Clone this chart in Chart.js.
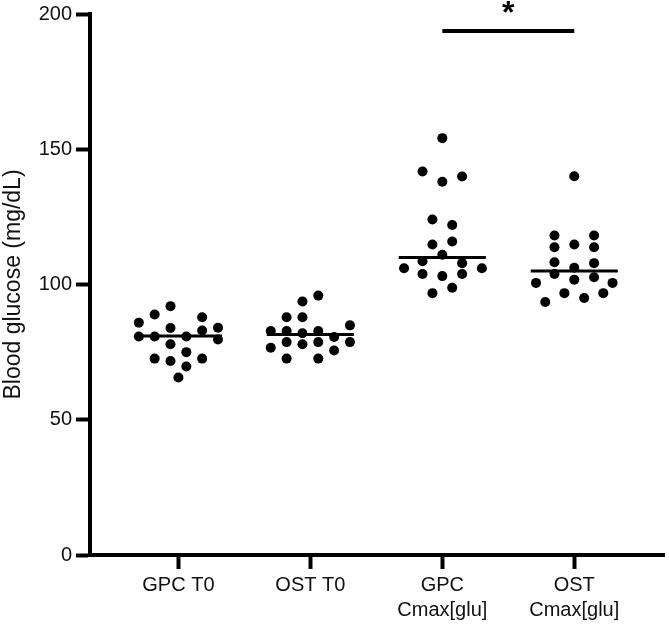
<!DOCTYPE html>
<html>
<head>
<meta charset="utf-8">
<script src="https://cdn.jsdelivr.net/npm/chart.js@4.4.1/dist/chart.umd.min.js"></script>
<style>
  html, body { margin: 0; padding: 0; background: #fff; }
  #wrap { width: 669px; height: 627px; }
</style>
</head>
<body>
<div id="wrap"><canvas id="glucoseChart"></canvas></div>
<script>
// groups along the x axis
const groupLabels = ['GPC T0', 'OST T0', ['GPC', 'Cmax[glu]'], ['OST', 'Cmax[glu]']];

// blood glucose (mg/dL) per subject
const gpcT0 = [92.0, 88.9, 85.9, 87.9, 83.9, 83.0, 84.0, 80.8, 80.8, 80.8, 79.7, 77.9, 75.0, 72.6, 71.7, 72.6, 69.7, 65.6];
const ostT0 = [95.9, 93.7, 87.9, 87.9, 84.9, 82.8, 82.8, 82.0, 82.8, 80.6, 78.7, 77.9, 78.7, 78.7, 76.6, 75.6, 72.6, 72.6];
const gpcCmax = [154.1, 141.8, 138.0, 139.9, 124.0, 122.0, 114.8, 115.9, 111.0, 108.6, 107.9, 106.0, 106.0, 103.9, 103.1, 103.9, 98.8, 96.8];
const ostCmax = [140.0, 118.1, 118.1, 114.8, 113.8, 113.8, 108.2, 107.9, 106.2, 103.9, 102.7, 101.8, 100.6, 100.6, 96.8, 96.8, 93.5, 95.0];

// horizontal scatter offset of each dot inside its column (category units)
const gpcT0Jitter = [-0.06, -0.18, -0.30, 0.18, -0.06, 0.18, 0.30, -0.30, -0.18, 0.06, 0.30, -0.06, 0.06, -0.18, -0.06, 0.18, 0.06, 0];
const ostT0Jitter = [0.06, -0.06, -0.18, -0.06, 0.30, -0.30, -0.18, -0.06, 0.06, 0.18, -0.18, -0.06, 0.06, 0.30, -0.30, 0.18, -0.18, 0.06];
const gpcCmaxJitter = [0, -0.15, 0, 0.15, -0.075, 0.075, -0.075, 0.075, 0, -0.15, 0.15, -0.29, 0.30, -0.15, 0, 0.15, 0.075, -0.075];
const ostCmaxJitter = [0, -0.15, 0.15, 0, -0.15, 0.15, -0.15, 0.15, 0, -0.15, 0.15, 0, -0.29, 0.29, -0.075, 0.22, -0.22, 0.075];

// median line per group
const medians = [81, 81.5, 110, 105];

// significance bracket between group 3 and 4
const sigFrom = 3;
const sigTo = 4;
const sigLevel = 193.7;
const sigText = '*';

const yTicks = [0, 50, 100, 150, 200];

const groups = [gpcT0, ostT0, gpcCmax, ostCmax];
const jitters = [gpcT0Jitter, ostT0Jitter, gpcCmaxJitter, ostCmaxJitter];

const datasets = [];

groups.forEach((vals, i) => {
    datasets.push({
        type: 'scatter',
        data: vals.map((v, j) => ({ x: i + 1 + jitters[i][j], y: v })),
        backgroundColor: '#000',
        borderWidth: 0,
        pointRadius: 5,
        pointHoverRadius: 5
    });
});

medians.forEach((m, i) => {
    datasets.push({
        type: 'line',
        data: [{ x: i + 1 - 0.33, y: m }, { x: i + 1 + 0.33, y: m }],
        borderColor: '#000',
        borderWidth: 3,
        pointRadius: 0
    });
});

datasets.push({
    type: 'line',
    data: [{ x: sigFrom, y: sigLevel }, { x: sigTo, y: sigLevel }],
    borderColor: '#000',
    borderWidth: 4,
    pointRadius: 0
});

// star above the significance bar
const starPlugin = {
    id: 'star',
    afterDatasetsDraw(chart) {
        const c = chart.ctx;
        const x = chart.scales.x.getPixelForValue((sigFrom + sigTo) / 2);
        const y = chart.scales.y.getPixelForValue(sigLevel);
        c.save();
        c.fillStyle = '#000';
        c.font = 'bold 32px "Liberation Sans", Arial, sans-serif';
        c.textAlign = 'center';
        c.textBaseline = 'alphabetic';
        c.fillText(sigText, x, y - 8);
        c.restore();
    }
};

const ctx = document.getElementById('glucoseChart');

new Chart(ctx, {
    type: 'scatter',
    data: { datasets: datasets },
    options: {
        responsive: true,
        maintainAspectRatio: false,
        animation: false,
        layout: { padding: { top: 13, right: 2, left: 0, bottom: 0 } },
        plugins: {
            legend: { display: false },
            tooltip: { enabled: false }
        },
        scales: {
            x: {
                type: 'linear',
                min: 0.33,
                max: 4.68,
                afterBuildTicks: (scale) => {
                    scale.ticks = groupLabels.map((l, i) => ({ value: i + 1 }));
                },
                afterFit: (scale) => { scale.height = 72; },
                grid: {
                    drawOnChartArea: false,
                    tickLength: 14,
                    tickWidth: 4,
                    tickColor: '#000'
                },
                border: { width: 4, color: '#000' },
                ticks: {
                    color: '#111',
                    padding: 4,
                    autoSkip: false,
                    maxRotation: 0,
                    font: { family: '"Liberation Sans", Arial, sans-serif', size: 20, lineHeight: 1.25 },
                    callback: (v) => groupLabels[Math.round(v) - 1]
                }
            },
            y: {
                min: 0,
                max: 200,
                afterBuildTicks: (scale) => {
                    scale.ticks = yTicks.map(v => ({ value: v }));
                },
                afterFit: (scale) => { scale.width = 90; },
                grid: {
                    drawOnChartArea: false,
                    tickLength: 14,
                    tickWidth: 4,
                    tickColor: '#000'
                },
                border: { width: 4, color: '#000' },
                title: {
                    display: true,
                    text: 'Blood glucose (mg/dL)',
                    color: '#111',
                    padding: { top: 0, bottom: 0 },
                    font: { family: '"Liberation Sans", Arial, sans-serif', size: 23 }
                },
                ticks: {
                    color: '#111',
                    padding: 4,
                    font: { family: '"Liberation Sans", Arial, sans-serif', size: 20, lineHeight: 1 }
                }
            }
        }
    },
    plugins: [starPlugin]
});
</script>
</body>
</html>
